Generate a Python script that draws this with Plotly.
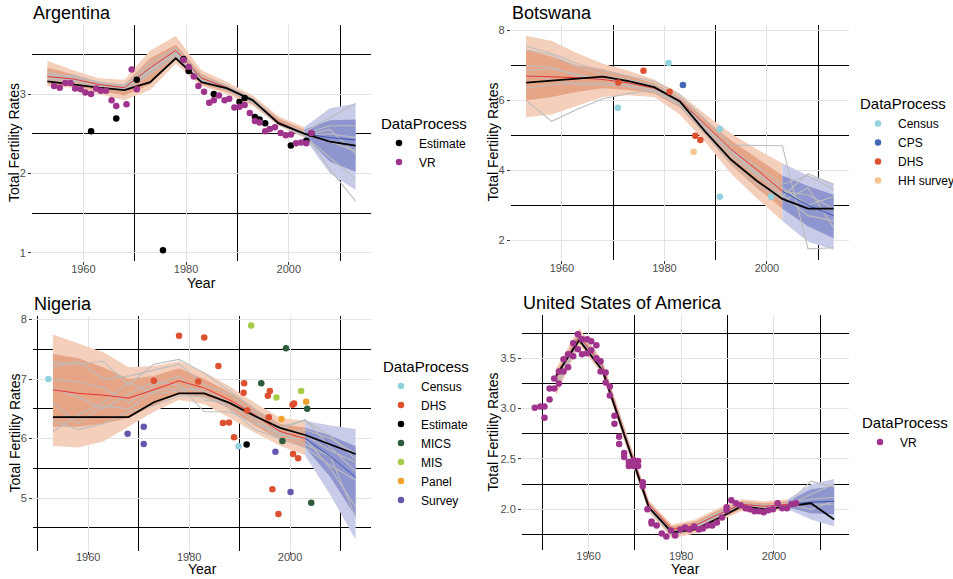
import plotly.graph_objects as go

# ---------------- data ----------------
YEARS = [1953, 1958, 1963, 1968, 1973, 1978, 1983, 1988, 1993, 1998, 2003, 2008, 2013]
SPLIT_YEAR = 2003

# Argentina
ARG_EST = [3.16, 3.12, 3.08, 3.05, 3.15, 3.45, 3.15, 3.07, 2.92, 2.63, 2.50, 2.40, 2.35]
ARG_MED = [3.22, 3.19, 3.12, 3.08, 3.33, 3.55, 3.20, 3.08, 2.92, 2.65, 2.50, 2.45, 2.42]
ARG_LO95 = [3.10, 3.08, 3.00, 2.92, 3.05, 3.38, 3.10, 3.00, 2.85, 2.60, 2.45, 2.00, 1.79]
ARG_HI95 = [3.42, 3.30, 3.20, 3.18, 3.55, 3.73, 3.30, 3.15, 2.98, 2.72, 2.58, 2.82, 2.88]
ARG_LO80 = [3.13, 3.10, 3.04, 2.98, 3.12, 3.45, 3.12, 3.03, 2.87, 2.62, 2.47, 2.15, 2.02]
ARG_HI80 = [3.33, 3.25, 3.15, 3.12, 3.45, 3.62, 3.25, 3.11, 2.95, 2.69, 2.55, 2.67, 2.68]
ARG_TRAJ = [
    [3.25, 3.22, 3.15, 3.10, 3.40, 3.58, 3.22, 3.10, 2.94, 2.66, 2.52, 2.70, 2.88],
    [3.20, 3.18, 3.12, 3.08, 3.35, 3.55, 3.20, 3.08, 2.92, 2.65, 2.50, 2.60, 2.60],
    [3.28, 3.20, 3.10, 3.12, 3.30, 3.50, 3.18, 3.06, 2.90, 2.64, 2.48, 2.50, 2.45],
    [3.22, 3.24, 3.14, 3.06, 3.28, 3.52, 3.16, 3.07, 2.91, 2.63, 2.49, 2.40, 2.28],
    [3.18, 3.16, 3.08, 3.04, 3.25, 3.48, 3.15, 3.05, 2.89, 2.62, 2.47, 2.20, 1.93],
    [3.24, 3.20, 3.12, 3.10, 3.32, 3.54, 3.20, 3.09, 2.93, 2.65, 2.51, 2.05, 1.65],
    [3.20, 3.17, 3.10, 3.07, 3.30, 3.51, 3.17, 3.06, 2.91, 2.64, 2.48, 2.55, 2.25],
]
ARG_PT_YEAR = [1961.5, 1966.4, 1970.4, 1975.5, 1979.5, 1980.5, 1985.4, 1990.4, 1991.4, 1993.4,
               1994.3, 1995.4, 2000.4, 2003.4, 2004.4,
               1954.3, 1955.4, 1956.5, 1957.5, 1958.4, 1959.5, 1960.4, 1961.5, 1962.5, 1963.4,
               1964.4, 1965.5, 1966.4, 1968.4, 1969.4, 1970.4, 1979.5, 1980.5, 1981.5, 1982.4,
               1983.5, 1984.5, 1985.4, 1986.4, 1987.5, 1988.4, 1989.4, 1990.4, 1991.4, 1992.4,
               1993.4, 1994.3, 1995.4, 1996.3, 1997.3, 1998.4, 1999.4, 2000.4, 2001.4, 2002.4,
               2003.4, 2004.4]
ARG_PT_TFR = [2.53, 2.69, 3.18, 1.03, 3.44, 3.29, 3.00, 2.90, 2.95, 2.71,
              2.68, 2.63, 2.35, 2.41, 2.50,
              3.10, 3.08, 3.14, 3.14, 3.07, 3.06, 3.02, 3.00, 3.07, 3.04,
              3.04, 2.92, 2.85, 2.87, 3.31, 3.06, 3.43, 3.34, 3.22, 3.10,
              3.03, 2.89, 2.92, 2.98, 2.92, 2.94, 2.83, 2.84, 2.86, 2.76,
              2.66, 2.64, 2.53, 2.56, 2.58, 2.51, 2.48, 2.49, 2.38, 2.39,
              2.38, 2.51]
ARG_PT_SRC = ["Estimate"] * 15 + ["VR"] * 42

# Botswana
BWA_EST = [6.51, 6.57, 6.63, 6.68, 6.55, 6.38, 5.97, 5.10, 4.30, 3.70, 3.18, 2.90, 2.90]
BWA_MED = [6.70, 6.68, 6.65, 6.60, 6.50, 6.35, 6.00, 5.30, 4.60, 4.02, 3.40, 3.00, 2.70]
BWA_LO95 = [5.52, 5.60, 5.85, 6.10, 6.15, 6.10, 5.60, 4.80, 3.90, 3.20, 2.55, 1.95, 1.72]
BWA_HI95 = [7.85, 7.70, 7.35, 7.05, 6.85, 6.60, 6.20, 5.60, 5.05, 4.60, 4.20, 3.85, 3.62]
BWA_LO80 = [6.00, 6.10, 6.25, 6.35, 6.30, 6.20, 5.80, 5.00, 4.15, 3.50, 2.90, 2.40, 2.05]
BWA_HI80 = [7.45, 7.25, 7.00, 6.90, 6.70, 6.50, 6.10, 5.45, 4.85, 4.35, 3.85, 3.55, 3.30]
BWA_TRAJ = [
    [7.55, 7.35, 7.05, 6.85, 6.70, 6.55, 6.15, 5.45, 4.72, 4.72, 4.70, 1.75, 1.78],
    [6.00, 5.40, 5.75, 6.05, 6.20, 6.30, 5.90, 5.10, 4.30, 3.70, 3.25, 3.90, 3.60],
    [7.45, 7.30, 6.95, 6.75, 6.60, 6.45, 6.05, 5.30, 4.60, 4.10, 3.60, 3.85, 3.45],
    [6.85, 6.90, 6.75, 6.60, 6.50, 6.35, 5.95, 5.20, 4.50, 3.90, 3.40, 3.30, 2.90],
    [6.35, 6.45, 6.50, 6.50, 6.45, 6.30, 5.90, 5.15, 4.40, 3.85, 3.30, 2.70, 2.55],
    [6.75, 6.60, 6.45, 6.45, 6.40, 6.25, 5.85, 5.05, 4.20, 3.60, 3.10, 3.50, 2.35],
    [7.00, 6.95, 6.70, 6.60, 6.55, 6.40, 6.00, 5.25, 4.55, 3.95, 3.50, 3.00, 3.25],
]
BWA_PT_YEAR = [1970.9, 1980.8, 1990.8, 1990.8, 2000.8, 1983.6,
               1971.0, 1975.9, 1981.0, 1986.0, 1987.0, 1985.7]
BWA_PT_TFR = [5.79, 7.07, 5.18, 3.24, 3.24, 6.44,
              6.51, 6.85, 6.25, 4.99, 4.87, 4.53]
BWA_PT_SRC = ["Census"] * 5 + ["CPS"] + ["DHS"] * 5 + ["HH survey"]

# Nigeria
NGA_EST = [6.36, 6.36, 6.36, 6.36, 6.61, 6.76, 6.76, 6.60, 6.38, 6.18, 6.06, 5.90, 5.74]
NGA_MED = [6.82, 6.76, 6.73, 6.68, 6.82, 6.97, 6.85, 6.65, 6.40, 6.12, 6.00, 5.70, 5.35]
NGA_LO95 = [5.88, 5.85, 5.95, 6.20, 6.45, 6.65, 6.58, 6.35, 6.10, 5.88, 5.72, 5.05, 4.30]
NGA_HI95 = [7.75, 7.60, 7.45, 7.20, 7.22, 7.30, 7.12, 6.88, 6.60, 6.35, 6.30, 6.22, 6.16]
NGA_LO80 = [6.20, 6.20, 6.25, 6.35, 6.55, 6.76, 6.70, 6.50, 6.22, 5.98, 5.85, 5.35, 4.69]
NGA_HI80 = [7.42, 7.35, 7.20, 7.00, 7.05, 7.18, 7.00, 6.78, 6.50, 6.25, 6.18, 6.05, 5.87]
NGA_TRAJ = [
    [7.28, 7.25, 7.30, 6.90, 7.25, 7.33, 7.10, 6.80, 6.50, 6.20, 6.30, 6.05, 5.65],
    [7.20, 7.30, 7.00, 7.05, 7.15, 7.25, 6.90, 6.75, 6.40, 6.15, 6.32, 5.85, 5.45],
    [7.00, 6.95, 6.85, 6.60, 6.90, 7.05, 6.65, 6.60, 6.35, 6.05, 6.05, 5.80, 5.60],
    [6.85, 6.70, 6.50, 6.75, 6.95, 6.90, 6.45, 6.45, 6.25, 6.10, 5.90, 5.70, 4.68],
    [6.60, 6.25, 6.55, 6.50, 6.80, 6.85, 6.80, 6.50, 6.15, 6.00, 6.00, 5.50, 4.85],
    [6.30, 6.15, 6.25, 6.45, 6.55, 6.72, 6.70, 6.55, 6.30, 6.00, 5.85, 5.55, 5.30],
    [6.12, 6.40, 6.60, 6.95, 6.75, 6.80, 6.85, 6.60, 6.45, 6.08, 6.15, 6.00, 5.75],
]
NGA_PT_YEAR = [1952.1, 1989.8,
               1978.0, 1983.0, 1973.0, 1981.8, 1985.8, 1986.7, 1987.9, 1988.9, 1990.8, 1990.9,
               1996.0, 1995.6, 1995.8, 1996.5, 1997.7, 2000.5, 2000.8, 2000.6, 2001.6, 1991.5,
               1991.4,
               1994.3, 1999.2, 1998.5, 2003.4, 2004.2,
               1992.3, 1997.3, 2002.2,
               1998.3, 2003.2,
               1967.8, 1971.0, 1971.0, 1997.1, 2000.1]
NGA_PT_TFR = [7.00, 5.87,
              7.73, 7.70, 6.97, 6.96, 7.22, 6.26, 6.27, 6.02, 6.77, 6.93,
              6.80, 6.72, 6.36, 5.15, 4.73, 6.57, 6.59, 5.74, 5.67, 6.47,
              5.90,
              6.93, 7.52, 5.96, 6.50, 4.92,
              7.90, 6.69, 6.80,
              6.33, 6.62,
              6.08, 6.20, 5.91, 5.78, 5.10]
NGA_PT_SRC = (["Census"] * 2 + ["DHS"] * 20 + ["Estimate"] + ["MICS"] * 5
              + ["MIS"] * 3 + ["Panel"] * 2 + ["Survey"] * 5)

# United States of America
USA_EST = [3.33, 3.68, 3.38, 2.70, 2.02, 1.77, 1.80, 1.91, 2.03, 2.00, 2.03, 2.06, 1.90]
USA_MED = [3.30, 3.72, 3.42, 2.72, 2.05, 1.80, 1.84, 1.95, 2.05, 2.03, 2.05, 2.07, 2.08]
USA_LO95 = [3.13, 3.63, 3.34, 2.64, 1.97, 1.71, 1.76, 1.88, 1.98, 1.97, 2.00, 1.90, 1.83]
USA_HI95 = [3.40, 3.80, 3.48, 2.78, 2.09, 1.85, 1.90, 2.01, 2.10, 2.08, 2.10, 2.25, 2.30]
USA_LO80 = [3.18, 3.66, 3.37, 2.66, 1.99, 1.73, 1.79, 1.90, 2.00, 1.99, 2.02, 1.96, 1.95]
USA_HI80 = [3.36, 3.77, 3.46, 2.76, 2.07, 1.83, 1.88, 1.99, 2.08, 2.06, 2.08, 2.20, 2.23]
USA_TRAJ = [
    [3.30, 3.75, 3.45, 2.74, 2.06, 1.78, 1.85, 1.97, 2.06, 2.04, 2.05, 2.28, 2.22],
    [3.22, 3.70, 3.40, 2.70, 2.02, 1.75, 1.82, 1.94, 2.04, 2.02, 2.04, 2.15, 2.25],
    [3.18, 3.68, 3.43, 2.72, 2.04, 1.77, 1.83, 1.95, 2.02, 2.03, 2.06, 2.10, 2.12],
    [3.26, 3.73, 3.38, 2.68, 2.00, 1.74, 1.81, 1.93, 2.03, 2.01, 2.03, 2.05, 2.05],
    [3.28, 3.71, 3.41, 2.71, 2.03, 1.76, 1.84, 1.96, 2.05, 2.04, 2.05, 2.00, 2.08],
]
USA_PT_YEAR = [1948.4, 1949.6, 1950.5, 1950.5, 1951.6, 1951.6, 1952.6, 1952.6, 1953.6, 1953.6,
               1954.6, 1954.6, 1955.6, 1955.6, 1956.7, 1956.7, 1957.7, 1957.7, 1958.6, 1958.6,
               1959.7, 1959.7, 1960.6, 1960.6, 1961.7, 1961.7, 1962.6, 1962.6, 1963.7, 1963.7,
               1964.6, 1964.6, 1965.6, 1965.6, 1966.6, 1966.6, 1967.7, 1967.7, 1968.7, 1968.7,
               1969.7, 1969.7, 1970.7, 1970.7, 1971.7, 1971.7, 1972.7, 1973.6, 1973.6, 1974.7,
               1975.8, 1976.8, 1977.8, 1978.7, 1979.8, 1980.8, 1981.8, 1982.8, 1983.8, 1984.7,
               1985.7, 1986.7, 1987.7, 1988.8, 1989.8, 1989.8, 1990.8, 1991.8, 1992.8, 1993.9,
               1994.8, 1995.8, 1996.8, 1997.8, 1998.8, 1999.8, 2000.8, 2001.8, 2002.8, 2003.8,
               2004.8]
USA_PT_TFR = [3.01, 3.02, 3.02, 2.91, 3.20, 3.09, 3.20, 3.30, 3.25, 3.37,
              3.37, 3.49, 3.41, 3.54, 3.52, 3.65, 3.59, 3.74, 3.54, 3.69,
              3.55, 3.69, 3.67, 3.58, 3.63, 3.50, 3.47, 3.37, 3.36, 3.26,
              3.22, 3.13, 2.93, 2.85, 2.72, 2.65, 2.56, 2.52, 2.47, 2.43,
              2.49, 2.43, 2.48, 2.43, 2.27, 2.23, 2.00, 1.88, 1.86, 1.84,
              1.76, 1.73, 1.79, 1.74, 1.80, 1.82, 1.80, 1.83, 1.80, 1.81,
              1.84, 1.84, 1.87, 1.92, 1.99, 2.02, 2.09, 2.06, 2.04, 2.01,
              2.00, 1.98, 1.98, 1.97, 1.99, 2.00, 2.06, 2.01, 2.01, 2.05,
              2.06]
USA_PT_SRC = ["VR"] * 81

SOURCE_COLORS = {
    "Census": "#92D2DF",
    "CPS": "#4468B5",
    "DHS": "#DD5030",
    "Estimate": "#000000",
    "HH survey": "#F5C48F",
    "MICS": "#2E5B3C",
    "MIS": "#A6CC4A",
    "Panel": "#EFA22F",
    "Survey": "#6657AE",
    "VR": "#A0338C",
}

# ---------------- figure ----------------
W, H = 953, 579

panels = [
    dict(name="Argentina", est=ARG_EST, med=ARG_MED, lo95=ARG_LO95, hi95=ARG_HI95,
         lo80=ARG_LO80, hi80=ARG_HI80, traj=ARG_TRAJ, px=ARG_PT_YEAR, py=ARG_PT_TFR,
         ps=ARG_PT_SRC, xpx=(32, 371), ypx=(25, 261), xr=[1950, 2016], yr=[0.895, 3.87],
         ydt=1, ymdt=0.5, ytick0=1, ymtick0=0.5, yfmt="", legx=379, show_year=True),
    dict(name="Botswana", est=BWA_EST, med=BWA_MED, lo95=BWA_LO95, hi95=BWA_HI95,
         lo80=BWA_LO80, hi80=BWA_HI80, traj=BWA_TRAJ, px=BWA_PT_YEAR, py=BWA_PT_TFR,
         ps=BWA_PT_SRC, xpx=(510.7, 849), ypx=(25, 260), xr=[1950, 2016], yr=[1.43, 8.16],
         ydt=2, ymdt=1, ytick0=2, ymtick0=1, yfmt="", legx=858, show_year=False),
    dict(name="Nigeria", est=NGA_EST, med=NGA_MED, lo95=NGA_LO95, hi95=NGA_HI95,
         lo80=NGA_LO80, hi80=NGA_HI80, traj=NGA_TRAJ, px=NGA_PT_YEAR, py=NGA_PT_TFR,
         ps=NGA_PT_SRC, xpx=(33, 371), ypx=(316, 551), xr=[1949.05, 2016.05], yr=[4.11, 8.06],
         ydt=1, ymdt=0.5, ytick0=5, ymtick0=4.5, yfmt="", legx=381, show_year=True),
    dict(name="United States of America", est=USA_EST, med=USA_MED, lo95=USA_LO95,
         hi95=USA_HI95, lo80=USA_LO80, hi80=USA_HI80, traj=USA_TRAJ, px=USA_PT_YEAR,
         py=USA_PT_TFR, ps=USA_PT_SRC, xpx=(522, 849), ypx=(315, 550),
         xr=[1945.65, 2016.2], yr=[1.596, 3.93],
         ydt=0.5, ymdt=0.25, ytick0=2, ymtick0=1.75, yfmt=".1f", legx=860, show_year=True),
]

ORANGE_LIGHT = "#F4CFBC"
ORANGE_DARK = "#E6A587"
BLUE_LIGHT = "#C9CCE9"
BLUE_DARK = "#8F95CE"
GRAY_LINE = "#BDBDBD"

fig = go.Figure()
annotations = []
layout_axes = {}
FONT = "Liberation Sans, Arial, Helvetica, sans-serif"


def band(xs, lo, hi, color, xa, ya):
    return go.Scatter(x=list(xs) + list(xs)[::-1], y=list(hi) + list(lo)[::-1],
                      fill="toself", fillcolor=color, line=dict(width=0), mode="lines",
                      hoverinfo="skip", showlegend=False, xaxis=xa, yaxis=ya)


for i, p in enumerate(panels):
    k = "" if i == 0 else str(i + 1)
    xa, ya = "x" + k, "y" + k
    leg = "legend" + k
    past = [j for j, yv in enumerate(YEARS) if yv <= SPLIT_YEAR]
    fut = [j for j, yv in enumerate(YEARS) if yv >= SPLIT_YEAR]
    pick = lambda arr, idx: [arr[j] for j in idx]
    xs_p, xs_f = pick(YEARS, past), pick(YEARS, fut)

    fig.add_trace(band(xs_p, pick(p["lo95"], past), pick(p["hi95"], past), ORANGE_LIGHT, xa, ya))
    fig.add_trace(band(xs_p, pick(p["lo80"], past), pick(p["hi80"], past), ORANGE_DARK, xa, ya))
    fig.add_trace(band(xs_f, pick(p["lo95"], fut), pick(p["hi95"], fut), BLUE_LIGHT, xa, ya))
    fig.add_trace(band(xs_f, pick(p["lo80"], fut), pick(p["hi80"], fut), BLUE_DARK, xa, ya))
    for tr in p["traj"]:
        fig.add_trace(go.Scatter(x=YEARS, y=tr, mode="lines", line=dict(color=GRAY_LINE, width=1.1),
                                 hoverinfo="skip", showlegend=False, xaxis=xa, yaxis=ya))
    fig.add_trace(go.Scatter(x=xs_p, y=pick(p["med"], past), mode="lines",
                             line=dict(color="#E8262B", width=0.9), showlegend=False,
                             xaxis=xa, yaxis=ya))
    fig.add_trace(go.Scatter(x=xs_f, y=pick(p["med"], fut), mode="lines",
                             line=dict(color="#2F4DAE", width=0.9), showlegend=False,
                             xaxis=xa, yaxis=ya))
    fig.add_trace(go.Scatter(x=YEARS, y=p["est"], mode="lines",
                             line=dict(color="black", width=1.8), showlegend=False,
                             xaxis=xa, yaxis=ya))
    for src in sorted(set(p["ps"]), key=str.lower):
        idx = [j for j, s in enumerate(p["ps"]) if s == src]
        fig.add_trace(go.Scatter(x=pick(p["px"], idx), y=pick(p["py"], idx), mode="markers",
                                 name=src, marker=dict(color=SOURCE_COLORS[src], size=6.5),
                                 showlegend=True, legend=leg, xaxis=xa, yaxis=ya))

    x0, x1 = p["xpx"]
    ytop, ybot = p["ypx"]
    axis_common = dict(showline=False, zeroline=False, ticks="outside", ticklen=3,
                       tickcolor="#333333", tickwidth=1, automargin=False,
                       tickfont=dict(size=11, color="#4D4D4D", family=FONT),
                       gridcolor="#E3E3E3", gridwidth=1)
    layout_axes["xaxis" + k] = dict(
        axis_common, domain=[x0 / W, x1 / W], range=p["xr"], anchor=ya,
        tick0=1960, dtick=20, ticklabelstandoff=(-5 if i < 2 else -7),
        minor=dict(showgrid=True, gridcolor="black", gridwidth=1.2, tick0=1950, dtick=10))
    layout_axes["yaxis" + k] = dict(
        axis_common, domain=[1 - ybot / H, 1 - ytop / H], range=p["yr"], anchor=xa,
        tick0=p["ytick0"], dtick=p["ydt"], tickformat=p["yfmt"],
        minor=dict(showgrid=True, gridcolor="black", gridwidth=1.2,
                   tick0=p["ymtick0"], dtick=p["ymdt"]))

    # panel title
    annotations.append(dict(text=p["name"], x=x0 / W - 0.001, y=1 - (ytop - 12) / H,
                            xref="paper", yref="paper", xanchor="left", yanchor="middle",
                            showarrow=False, font=dict(size=18, color="black", family=FONT)))
    # axis titles
    if p["show_year"]:
        if i < 2:
            ypos, yanc = 1 - (ybot + 22) / H, "middle"
        else:
            ypos, yanc = 0.0, "bottom"
        annotations.append(dict(text="Year", x=(x0 + x1) / 2 / W, y=ypos,
                                xref="paper", yref="paper", xanchor="center", yanchor=yanc,
                                showarrow=False, font=dict(size=14, color="black", family=FONT)))
    annotations.append(dict(text="Total Fertility Rates", x=(14 if i % 2 == 0 else 492) / W,
                            y=1 - (ytop + ybot) / 2 / H, xref="paper", yref="paper",
                            xanchor="center", yanchor="middle", textangle=-90, showarrow=False,
                            font=dict(size=14, color="black", family=FONT)))
    layout_axes[leg] = dict(
        title=dict(text="DataProcess", font=dict(size=15, color="black", family=FONT)),
        x=p["legx"] / W, y=1 - (ytop + ybot) / 2 / H, xanchor="left", yanchor="middle",
        xref="paper", yref="paper", bgcolor="rgba(0,0,0,0)",
        font=dict(size=12, color="black", family=FONT), itemsizing="trace")

fig.update_layout(
    width=W, height=H, autosize=False,
    margin=dict(l=0, r=0, t=0, b=0, autoexpand=False),
    paper_bgcolor="white", plot_bgcolor="white",
    font=dict(family=FONT),
    annotations=annotations,
    **layout_axes,
)

fig.write_html("out.html", config={"displayModeBar": False},
               post_script="document.body.style.margin='0';document.body.style.overflow='hidden';")
